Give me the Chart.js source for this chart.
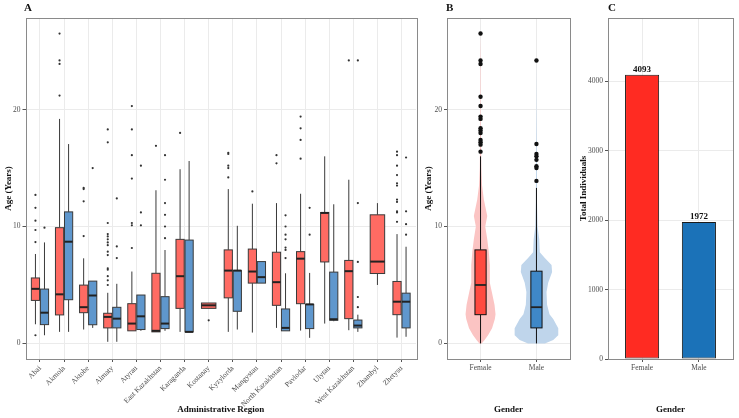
<!DOCTYPE html>
<html>
<head>
<meta charset="utf-8">
<script src="https://cdn.jsdelivr.net/npm/chart.js@4"></script>
<style>
body { margin: 0; background: #fff; width: 739px; height: 418px; overflow: hidden; position: relative; }
.panel { position: absolute; top: 0; height: 418px; }
.tag { position: absolute; top: 1px; font: bold 11px "Liberation Serif", serif; color: #111; }
</style>
</head>
<body>
<div class="panel" style="left:0;width:420px"><canvas id="chart-a" width="420" height="418"></canvas></div>
<div class="panel" style="left:420px;width:155px"><canvas id="chart-b" width="155" height="418"></canvas></div>
<div class="panel" style="left:575px;width:164px"><canvas id="chart-c" width="164" height="418"></canvas></div>
<div class="tag" style="left:24px">A</div>
<div class="tag" style="left:446px">B</div>
<div class="tag" style="left:608px">C</div>

<script>
// --- Data ---

const regions = ["Abai", "Akmola", "Aktobe", "Almaty", "Atyrau", "East Kazakhstan", "Karaganda", "Kostanay",
                 "Kyzylorda", "Mangystau", "North Kazakhstan", "Pavlodar", "Ulytau", "West Kazakhstan", "Zhambyl", "Zhetysu"];

// [lower whisker, Q1, median, Q3, upper whisker]
const femaleBox = [
    [1.64, 3.68, 4.67, 5.6, 7.65],
    [0.99, 2.44, 4.2, 9.9, 19.2],
    [1.19, 2.63, 3.1, 4.99, 7.28],
    [0.14, 1.33, 2.27, 2.58, 4.33],
    [1.08, 1.08, 1.7, 3.4, 6.15],
    [0.99, 0.99, 1.08, 6.0, 13.1],
    [0.99, 3.0, 5.75, 8.9, 14.9],
    [3.0, 3.0, 3.26, 3.46, 3.46],
    [0.99, 3.9, 6.23, 8.0, 13.2],
    [0.93, 5.16, 6.15, 8.07, 11.95],
    [1.33, 3.26, 5.24, 7.8, 12.0],
    [1.1, 3.4, 7.25, 7.85, 12.8],
    [1.7, 6.97, 11.16, 11.2, 16.0],
    [1.13, 2.12, 6.18, 7.1, 14.0],
    [5.0, 5.98, 7.0, 11.0, 12.0],
    [0.5, 2.46, 3.57, 5.3, 9.35]
];
const maleBox = [
    [0.7, 1.61, 2.63, 4.65, 8.64],
    [0.99, 3.74, 8.7, 11.25, 17.05],
    [1.33, 1.6, 4.1, 5.33, 5.33],
    [0.14, 1.33, 2.12, 3.09, 5.1],
    [1.08, 1.19, 2.32, 4.14, 4.14],
    [1.08, 1.27, 1.7, 4.0, 7.99],
    [0.99, 0.99, 0.99, 8.84, 15.6],
    null,
    [1.19, 2.75, 6.23, 6.23, 10.06],
    [5.16, 5.16, 5.67, 7.0, 7.0],
    [1.08, 1.08, 1.33, 2.95, 6.0],
    [0.48, 1.27, 3.34, 3.34, 6.03],
    [1.9, 1.98, 2.07, 6.1, 11.9],
    [0.99, 1.33, 1.53, 2.0, 2.46],
    null,
    [0.57, 1.33, 3.57, 4.3, 8.27]
];
const femaleOutliers = [
    [12.7, 11.6, 10.5, 9.7, 8.67, 0.7],
    [26.5, 24.2, 23.9, 21.2],
    [13.3, 13.2, 12.15, 9.18],
    [18.3, 17.2, 10.3, 9.35, 9.15, 8.9, 8.64, 8.4, 7.85, 7.56, 6.43, 6.3, 5.75, 5.4, 5.0],
    [20.3, 18.3, 16.1, 14.1, 10.3, 10.1, 8.16],
    [16.9],
    [18.0],
    [1.98],
    [16.3, 16.2, 15.2, 15.0, 14.2],
    [13.0],
    [16.1, 15.4],
    [19.4, 18.4, 17.4, 15.8],
    [],
    [24.2],
    [],
    [16.4, 16.1, 15.2, 14.4, 13.7, 13.5, 12.3, 12.1, 11.3, 11.2, 10.4]
];
const maleOutliers = [
    [9.9],
    [],
    [15.0],
    [12.4, 8.3, 7.3],
    [15.2, 11.2, 10.1],
    [16.1, 14.0, 12.0, 11.0, 10.0, 9.0],
    [],
    [],
    [],
    [],
    [10.96, 10.0, 9.3, 8.9, 8.2, 8.0, 7.3],
    [11.6, 9.3],
    [],
    [24.2, 12.0, 6.97, 3.97, 3.1],
    [],
    [15.9, 11.3, 10.2, 9.3]
];

// Panel B: overall age by gender
const genders = ["Female", "Male"];
const genderBox = [
    [0, 2.46, 5.0, 8.0, 16.0],
    [0, 1.33, 3.1, 6.18, 13.3]
];
const genderOutliers = [
    [26.5, 24.2, 23.9, 21.1, 20.3, 19.4, 19.2, 18.4, 18.2, 18.0, 17.4, 17.2, 17.0, 16.4],
    [24.2, 17.05, 16.2, 16.0, 15.7, 15.15, 15.0, 13.9]
];
// violin outline: ages and half-widths (in category units)
const femaleViolinAge   = [0, 0.3, 0.7, 1.3, 2.1, 2.5, 3.3, 4.4, 5.2, 6.1, 6.7, 7.8, 8.9, 10.0, 10.9, 12.3, 13.5, 15, 17, 20, 24.2, 26.5];
const femaleViolinWidth = [0.02, 0.072, 0.134, 0.206, 0.256, 0.268, 0.25, 0.202, 0.166, 0.166, 0.166, 0.148, 0.12, 0.084, 0.12, 0.059, 0.027, 0.014, 0.009, 0.005, 0.004, 0];
const maleViolinAge     = [0, 0.3, 0.7, 1.3, 2.1, 2.5, 3.3, 4.4, 5.2, 6.1, 6.7, 7.3, 7.8, 8.9, 10.0, 12, 15, 20, 24.2];
const maleViolinWidth   = [0.15, 0.3, 0.39, 0.39, 0.3, 0.233, 0.19, 0.18, 0.21, 0.28, 0.27, 0.15, 0.06, 0.05, 0.02, 0.01, 0.008, 0.003, 0];

// Panel C: counts
const genderCounts = [4093, 1972];

// --- Shared styles ---

Chart.defaults.font.family = '"Liberation Serif", "Times New Roman", serif';
Chart.defaults.animation = false;
Chart.defaults.plugins.legend.display = false;
Chart.defaults.plugins.tooltip.enabled = false;

const GRID = "#ebebeb";
const TICK_FONT = { size: 7.5 };
const TICK_COLOR = "#4d4d4d";
const TITLE_FONT = { size: 9, weight: "bold" };

function fixWidth(w)  { return scale => { scale.width = w; }; }
function fixHeight(h) { return scale => { scale.height = h; }; }
function setTicks(vals) { return scale => { scale.ticks = vals.map(v => ({ value: v })); }; }

const panelBorder = {
    id: "panelBorder",
    afterDraw(chart) {
        const { ctx, chartArea: a } = chart;
        ctx.save();
        ctx.strokeStyle = "#8a8a8a";
        ctx.lineWidth = 1;
        ctx.strokeRect(Math.round(a.left) + 0.5, Math.round(a.top) + 0.5,
                       Math.round(a.right - a.left), Math.round(a.bottom - a.top));
        ctx.restore();
    }
};

function drawBox(ctx, xs, ys, cx, halfW, s, fill, stroke, medW) {
    const x0 = xs.getPixelForValue(cx - halfW);
    const x1 = xs.getPixelForValue(cx + halfW);
    const xm = xs.getPixelForValue(cx);
    const [lo, q1, med, q3, hi] = s.map(v => ys.getPixelForValue(v));
    ctx.strokeStyle = stroke;
    ctx.lineWidth = 1;
    ctx.beginPath();
    ctx.moveTo(xm, lo); ctx.lineTo(xm, q1);
    ctx.moveTo(xm, q3); ctx.lineTo(xm, hi);
    ctx.stroke();
    ctx.fillStyle = fill;
    ctx.fillRect(x0, q3, x1 - x0, q1 - q3);
    ctx.strokeRect(x0, q3, x1 - x0, q1 - q3);
    ctx.lineWidth = medW;
    ctx.strokeStyle = "#222";
    ctx.beginPath();
    ctx.moveTo(x0, med); ctx.lineTo(x1, med);
    ctx.stroke();
}

// --- Panel A: boxplots by region ---

const DODGE = 0.1875;

function regionOffset(i, g) {
    if (!femaleBox[i] || !maleBox[i]) return 0;
    return g === 0 ? -DODGE : DODGE;
}

const regionBoxes = {
    id: "regionBoxes",
    beforeDatasetsDraw(chart) {
        const { ctx, scales: { x, y } } = chart;
        ctx.save();
        regions.forEach((r, i) => {
            [femaleBox[i], maleBox[i]].forEach((s, g) => {
                if (!s) return;
                const single = !femaleBox[i] || !maleBox[i];
                const halfW = single ? 0.3 : 0.17;
                drawBox(ctx, x, y, i + 1 + regionOffset(i, g), halfW, s,
                        g === 0 ? "#ff6b63" : "#5f97cd", "#3a3a3a", 2);
            });
        });
        ctx.restore();
    }
};

function outlierPoints(list, g) {
    const pts = [];
    list.forEach((vals, i) => vals.forEach(v => pts.push({ x: i + 1 + regionOffset(i, g), y: v })));
    return pts;
}

new Chart(document.getElementById("chart-a"), {
    type: "scatter",
    data: {
        datasets: [
            { data: outlierPoints(femaleOutliers, 0), pointRadius: 1.1, backgroundColor: "#333", borderWidth: 0 },
            { data: outlierPoints(maleOutliers, 1),   pointRadius: 1.1, backgroundColor: "#333", borderWidth: 0 }
        ]
    },
    options: {
        responsive: false,
        layout: { padding: { top: 18, right: 4, left: 0, bottom: 0 } },
        scales: {
            x: {
                type: "linear", min: 0.4, max: regions.length + 0.6,
                afterBuildTicks: setTicks(regions.map((r, i) => i + 1)),
                afterFit: fixHeight(59),
                grid: { color: GRID, tickColor: "#555", tickLength: 3 },
                border: { display: false },
                ticks: { autoSkip: false, minRotation: 45, maxRotation: 45, padding: 2, font: TICK_FONT, color: TICK_COLOR,
                         callback: v => regions[v - 1] },
                title: { display: true, text: "Administrative Region", font: TITLE_FONT, color: "#111", padding: { top: 0, bottom: 3 } }
            },
            y: {
                min: -1.33, max: 27.83,
                afterBuildTicks: setTicks([0, 10, 20]),
                afterFit: fixWidth(25.5),
                grid: { color: GRID, tickColor: "#555", tickLength: 3 },
                border: { display: false },
                ticks: { font: TICK_FONT, color: TICK_COLOR, padding: 2 },
                title: { display: true, text: "Age (Years)", font: TITLE_FONT, color: "#111", padding: { top: 3, bottom: 0 } }
            }
        }
    },
    plugins: [regionBoxes, panelBorder]
});

// --- Panel B: violin + box by gender ---

const violins = {
    id: "violins",
    beforeDatasetsDraw(chart) {
        const { ctx, scales: { x, y } } = chart;
        const shapes = [
            { ages: femaleViolinAge, widths: femaleViolinWidth, color: "#fbc4c3" },
            { ages: maleViolinAge,   widths: maleViolinWidth,   color: "#bfd5eb" }
        ];
        ctx.save();
        shapes.forEach((v, g) => {
            const cx = g + 1;
            ctx.fillStyle = v.color;
            ctx.beginPath();
            v.ages.forEach((a, k) => {
                const px = x.getPixelForValue(cx - v.widths[k]);
                const py = y.getPixelForValue(a);
                k === 0 ? ctx.moveTo(px, py) : ctx.lineTo(px, py);
            });
            for (let k = v.ages.length - 1; k >= 0; k--) {
                ctx.lineTo(x.getPixelForValue(cx + v.widths[k]), y.getPixelForValue(v.ages[k]));
            }
            ctx.closePath();
            ctx.fill();
        });
        genderBox.forEach((s, g) => {
            drawBox(ctx, x, y, g + 1, 0.1, s, g === 0 ? "#ff4a40" : "#3f88c8", "#111", 1.8);
        });
        ctx.restore();
    }
};

new Chart(document.getElementById("chart-b"), {
    type: "scatter",
    data: {
        datasets: genderOutliers.map((vals, g) => ({
            data: vals.map(v => ({ x: g + 1, y: v })),
            pointRadius: 2.2, backgroundColor: "#111", borderWidth: 0
        }))
    },
    options: {
        responsive: false,
        layout: { padding: { top: 18, right: 5, left: 0, bottom: 0 } },
        scales: {
            x: {
                type: "linear", min: 0.4, max: 2.6,
                afterBuildTicks: setTicks([1, 2]),
                afterFit: fixHeight(59),
                grid: { color: GRID, tickColor: "#555", tickLength: 3 },
                border: { display: false },
                ticks: { font: TICK_FONT, color: TICK_COLOR, padding: 2, maxRotation: 0, callback: v => genders[v - 1] },
                title: { display: true, text: "Gender", font: TITLE_FONT, color: "#111", padding: { top: 0, bottom: 3 } }
            },
            y: {
                min: -1.33, max: 27.83,
                afterBuildTicks: setTicks([0, 10, 20]),
                afterFit: fixWidth(27),
                grid: { color: GRID, tickColor: "#555", tickLength: 3 },
                border: { display: false },
                ticks: { font: TICK_FONT, color: TICK_COLOR, padding: 2 },
                title: { display: true, text: "Age (Years)", font: TITLE_FONT, color: "#111", padding: { top: 3, bottom: 0 } }
            }
        }
    },
    plugins: [violins, panelBorder]
});

// --- Panel C: counts by gender ---

const barLabels = {
    id: "barLabels",
    afterDatasetsDraw(chart) {
        const { ctx } = chart;
        const meta = chart.getDatasetMeta(0);
        ctx.save();
        ctx.font = 'bold 9px "Liberation Serif", serif';
        ctx.fillStyle = "#111";
        ctx.textAlign = "center";
        ctx.textBaseline = "bottom";
        meta.data.forEach((bar, i) => ctx.fillText(String(genderCounts[i]), bar.x, bar.y - 1));
        ctx.restore();
    }
};

new Chart(document.getElementById("chart-c"), {
    type: "bar",
    data: {
        datasets: [{
            data: genderCounts.map((v, i) => ({ x: i + 1, y: v })),
            backgroundColor: ["#ff2b22", "#1b72b8"],
            borderColor: "#1a1a1a",
            borderWidth: 1,
            borderSkipped: false,
            barPercentage: 0.6,
            categoryPercentage: 1
        }]
    },
    options: {
        responsive: false,
        layout: { padding: { top: 18, right: 6, left: 0, bottom: 0 } },
        scales: {
            x: {
                type: "linear", min: 0.4, max: 2.6, offset: false,
                afterBuildTicks: setTicks([1, 2]),
                afterFit: fixHeight(59),
                grid: { color: GRID, tickColor: "#555", tickLength: 3, offset: false },
                border: { display: false },
                ticks: { font: TICK_FONT, color: TICK_COLOR, padding: 2, maxRotation: 0, callback: v => genders[v - 1] },
                title: { display: true, text: "Gender", font: TITLE_FONT, color: "#111", padding: { top: 0, bottom: 3 } }
            },
            y: {
                min: 0, max: 4911,
                afterBuildTicks: setTicks([0, 1000, 2000, 3000, 4000]),
                afterFit: fixWidth(33),
                grid: { color: GRID, tickColor: "#555", tickLength: 3 },
                border: { display: false },
                ticks: { font: TICK_FONT, color: TICK_COLOR, padding: 2, callback: v => String(v) },
                title: { display: true, text: "Total Individuals", font: TITLE_FONT, color: "#111", padding: { top: 3, bottom: 0 } }
            }
        }
    },
    plugins: [barLabels, panelBorder]
});
</script>
</body>
</html>
